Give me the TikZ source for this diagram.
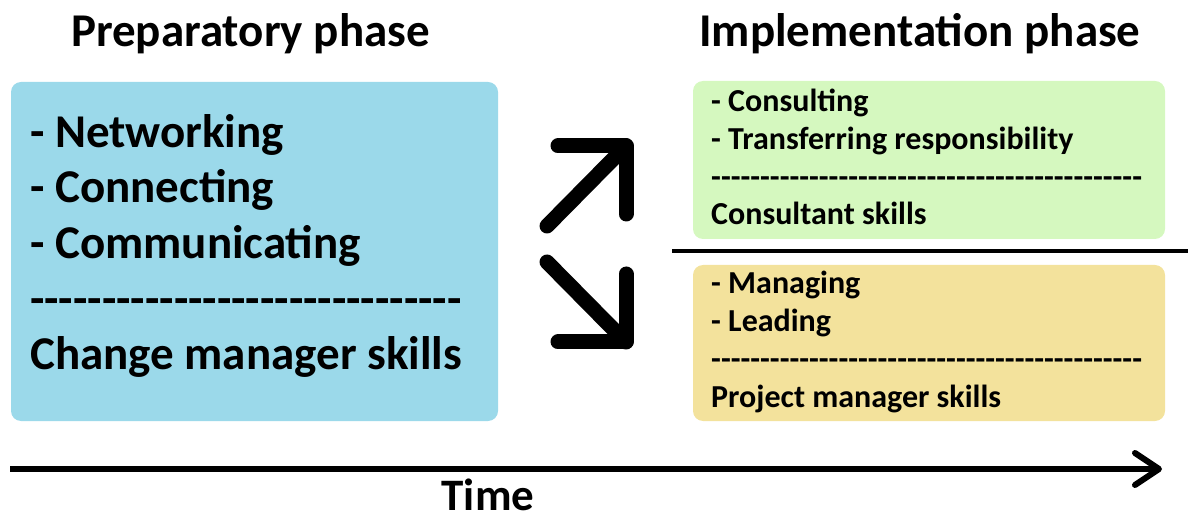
\documentclass[tikz,border=0pt]{standalone}
\usepackage{fontspec}
\setmainfont{Carlito}[Ligatures=TeXOff]
\usetikzlibrary{arrows.meta,positioning}
\definecolor{prepblue}{HTML}{9BD9EA}
\definecolor{consgreen}{HTML}{D5F8BF}
\definecolor{projyellow}{HTML}{F3E29C}
\begin{document}
\begin{tikzpicture}[
            x=1pt,y=-1pt,
            phasebox/.style={rounded corners=10pt,inner sep=0pt},
            phasetitle/.style={anchor=base,inner sep=0pt,font=\fontsize{47}{50}\selectfont\bfseries},
            bigtext/.style={anchor=base west,inner sep=0pt,align=left,font=\fontsize{47}{55.7}\selectfont\bfseries},
            smalltext/.style={anchor=base west,inner sep=0pt,align=left,font=\fontsize{32}{37.8}\selectfont\bfseries},
            fatarrow/.style={line width=15pt,line cap=round,line join=round}
          ]
          \useasboundingbox (0,0) rectangle (1188,518);
          % boxes
          \node[phasebox,fill=prepblue,minimum width=487pt,minimum height=339pt] (prep) at (254.5,251.5) {};
          \node[phasebox,fill=consgreen,minimum width=472pt,minimum height=158pt] (cons) at (929,160) {};
          \node[phasebox,fill=projyellow,minimum width=472pt,minimum height=156pt] (proj) at (929,343) {};
          % titles
          \node[phasetitle] (preptitle) at (250.5,47) {Preparatory phase};
          \node[phasetitle] (impltitle) at (920,47) {Implementation phase};
          % box texts (anchored at the last baseline)
          \node[bigtext] (preptext) at (30,370) {- Networking\\- Connecting\\- Communicating\\------------------------------\\Change manager skills};
          \node[smalltext] (constext) at (711,225) {- Consulting\\- Transferring responsibility\\--------------------------------------------\\Consultant skills};
          \node[smalltext] (projtext) at (711,407) {- Managing\\- Leading\\--------------------------------------------\\Project manager skills};
          % divider
          \coordinate (divl) at (672,251);
          \coordinate (divr) at (1188,251);
          \draw[line width=4pt] (divl) -- (divr);
          % arrows
          \coordinate (uptail) at (547,226);
          \coordinate (uptip) at (626,146);
          \coordinate (upleft) at (558,146);
          \coordinate (updown) at (626,214);
          \draw[fatarrow] (uptail) -- (uptip);
          \draw[fatarrow] (upleft) -- (uptip) -- (updown);
          \coordinate (dntail) at (547,262);
          \coordinate (dntip) at (626,342);
          \coordinate (dnleft) at (558,342);
          \coordinate (dnup) at (626,274);
          \draw[fatarrow] (dntail) -- (dntip);
          \draw[fatarrow] (dnleft) -- (dntip) -- (dnup);
          % time axis
          \coordinate (tstart) at (10,469);
          \coordinate (tend) at (1162,469);
          \draw[line width=6pt,-{Straight Barb[length=24pt,width=32pt,line width=6pt,round]}] (tstart) -- (tend);
          \node[phasetitle,font=\fontsize{45}{48}\selectfont\bfseries] (time) at (488,510) {Time};
        \end{tikzpicture}
\end{document}
